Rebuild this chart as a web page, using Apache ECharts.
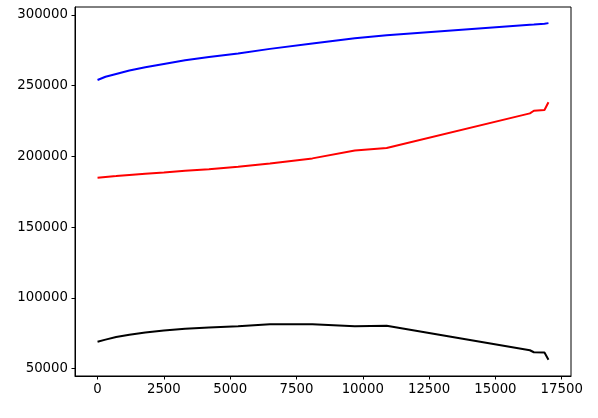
<!DOCTYPE html>
<html>
<head>
<meta charset="utf-8">
<script src="https://cdn.jsdelivr.net/npm/echarts@6/dist/echarts.min.js"></script>
<style>
  html, body { margin: 0; padding: 0; background: #fff; }
  #chart { width: 598px; height: 418px; }
</style>
</head>
<body>
<div id="chart"></div>
<script>
const xValues = [0, 300, 700, 1200, 1800, 2500, 3300, 4200, 5300, 6500, 8100, 9700, 10900, 16300, 16450, 16850, 17000];
const blueValues = [254000, 256300, 258300, 260700, 263000, 265300, 267900, 270300, 272800, 276000, 279800, 283500, 285600, 293000, 293200, 293800, 294200];
const redValues = [185000, 185500, 186100, 186900, 187800, 188700, 189800, 190900, 192700, 195000, 198600, 204200, 206000, 230400, 232300, 232800, 238300];
const blackValues = [69000, 70500, 72300, 73900, 75500, 77000, 78200, 79100, 80000, 81300, 81400, 80000, 80300, 63000, 61600, 61400, 56300];
const xTickValues = [0, 2500, 5000, 7500, 10000, 12500, 15000, 17500];
const yTickValues = [50000, 100000, 150000, 200000, 250000, 300000];

function pairs(ys) { return xValues.map((x, i) => [x, ys[i]]); }

const chart = echarts.init(document.getElementById('chart'), null, { renderer: 'canvas' });
const labelStyle = { color: '#000', fontFamily: 'DejaVu Sans', fontSize: 13.3 };
const mkSeries = (data, color) => ({
  type: 'line', data: pairs(data), showSymbol: false, smooth: false,
  lineStyle: { color: color, width: 2 }, itemStyle: { color: color },
  emphasis: { disabled: true }
});
chart.setOption({
  animation: false,
  grid: { left: 75, right: 27, top: 7, bottom: 42, show: true, borderColor: '#000', borderWidth: 1, containLabel: false },
  xAxis: {
    type: 'value', min: -850, max: 17850,
    axisLine: { show: true, onZero: false, lineStyle: { color: '#000', width: 1 } },
    axisTick: { show: true, inside: false, length: 3.5, customValues: xTickValues, lineStyle: { color: '#000', width: 1 } },
    axisLabel: { ...labelStyle, margin: 7, customValues: xTickValues, formatter: v => String(v) },
    splitLine: { show: false }
  },
  yAxis: {
    type: 'value', min: 44800, max: 305600,
    axisLine: { show: true, onZero: false, lineStyle: { color: '#000', width: 1 } },
    axisTick: { show: true, inside: false, length: 3.5, customValues: yTickValues, lineStyle: { color: '#000', width: 1 } },
    axisLabel: { ...labelStyle, margin: 7, customValues: yTickValues, formatter: v => String(v) },
    splitLine: { show: false }
  },
  series: [
    mkSeries(blueValues, '#0000ff'),
    mkSeries(redValues, '#ff0000'),
    mkSeries(blackValues, '#000000')
  ]
});
</script>
</body>
</html>
